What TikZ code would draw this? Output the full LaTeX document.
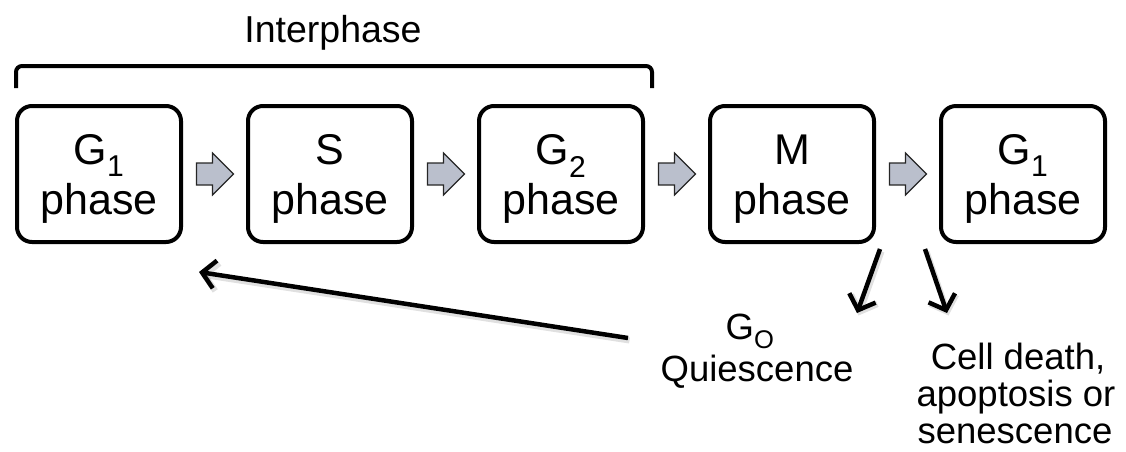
\documentclass[tikz,border=0pt]{standalone}
\usepackage{fontspec}
\setmainfont{Liberation Sans}
\usetikzlibrary{arrows.meta,calc}
\definecolor{arrowgray}{RGB}{186,191,204}
\begin{document}
\begin{tikzpicture}[x=1pt,y=-1pt,
  phasebox/.style={draw, line width=4pt, rounded corners=15pt,
    minimum width=164pt, minimum height=136pt, inner sep=0pt},
  boxtext/.style={align=center, inner sep=0pt, font=\fontsize{43}{50}\selectfont},
  blockarrow/.style={draw=black!85, line width=1.2pt, fill=arrowgray, line join=miter},
  bracketline/.style={line width=4pt, rounded corners=6pt},
  bigarrow/.style={line width=4.5pt, -{Straight Barb[length=13pt,width=28pt]}},
  arrowshade/.style={line width=6pt, draw=black, opacity=0.12,
    -{Straight Barb[length=13pt,width=28pt]}, transform canvas={shift={(1.5pt,-2.5pt)}}},
  label/.style={align=center, inner sep=0pt, font=\fontsize{36.5}{37}\selectfont}
]
\useasboundingbox (0,0) rectangle (1126,451);

% the five phase boxes
\node[phasebox] (g1)  at (99,174)   {};
\node[phasebox] (s)   at (330,174)  {};
\node[phasebox] (g2)  at (561,174)  {};
\node[phasebox] (m)   at (792,174)  {};
\node[phasebox] (g1b) at (1023,174) {};

% their captions
\node[boxtext] (t1) at ($(g1)+(0,5)$)  {G\textsubscript{1}\\phase};
\node[boxtext] (t2) at ($(s)+(0,5)$)   {S\\phase};
\node[boxtext] (t3) at ($(g2)+(0,5)$)  {G\textsubscript{2}\\phase};
\node[boxtext] (t4) at ($(m)+(0,5)$)   {M\\phase};
\node[boxtext] (t5) at ($(g1b)+(0,5)$) {G\textsubscript{1}\\phase};

% block arrows between consecutive phases
\coordinate (a1) at ($(g1.east)!0.5!(s.west)$);
\coordinate (a2) at ($(s.east)!0.5!(g2.west)$);
\coordinate (a3) at ($(g2.east)!0.5!(m.west)$);
\coordinate (a4) at ($(m.east)!0.5!(g1b.west)$);
\foreach \a in {a1,a2,a3,a4}
  \draw[blockarrow] (\a) ++(-18,-11) -- ++(16,0) -- ++(0,-10) -- ++(21,21)
    -- ++(-21,21) -- ++(0,-10) -- ++(-16,0) -- cycle;

% interphase bracket and its label
\coordinate (brl) at (16,88);
\coordinate (brr) at (652,88);
\draw[bracketline] (brl) -- (16,66) -- (652,66) -- (brr);
\node[inner sep=0pt, anchor=base, font=\fontsize{37.5}{40}\selectfont] (inter) at (333,42) {Interphase};

% exit labels below the cycle
\node[label, anchor=base] (g0) at (750,339) {G\textsubscript{O}};
\node[label, anchor=base] (quies) at (757,381) {Quiescence};
\node[label, anchor=base] (death1) at (1018,369) {Cell death,};
\node[label, anchor=base] (death2) at (1016,406) {apoptosis or};
\node[label, anchor=base] (death3) at (1015,443) {senescence};

% connector end points
\coordinate (ret0) at (628,338);
\coordinate (ret1) at (199,272);
\coordinate (q0) at (880,249);
\coordinate (q1) at (857,313);
\coordinate (d0) at (925,249);
\coordinate (d1) at (947,313);

% faint shadows under the black arrows
\draw[arrowshade] (ret0) -- (ret1);
\draw[arrowshade] (q0) -- (q1);
\draw[arrowshade] (d0) -- (d1);

% return to G1, exit to G0, exit to cell death
\draw[bigarrow] (ret0) -- (ret1);
\draw[bigarrow] (q0) -- (q1);
\draw[bigarrow] (d0) -- (d1);
\end{tikzpicture}
\end{document}
